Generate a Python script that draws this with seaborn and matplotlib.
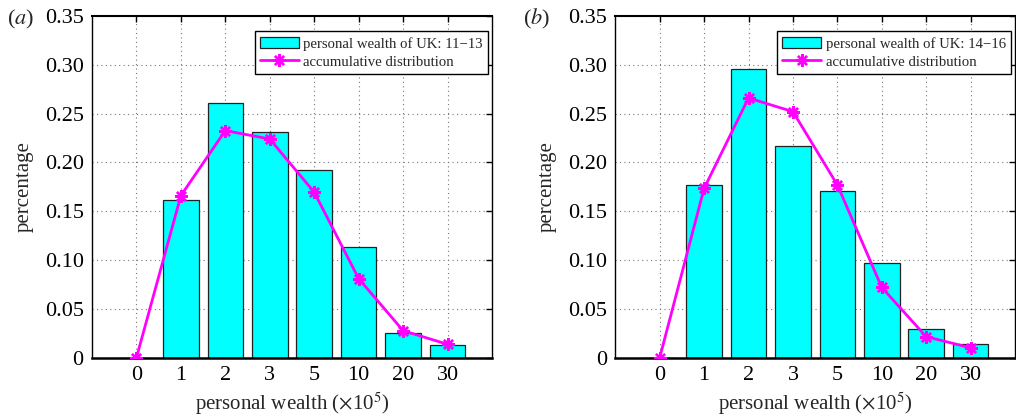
import numpy as np
import pandas as pd
import seaborn as sns
import matplotlib
matplotlib.use("Agg")
import matplotlib.pyplot as plt
from matplotlib.patches import Patch
from matplotlib.lines import Line2D

categories = ["0", "1", "2", "3", "5", "10", "20", "30"]
bars_a = [0.0, 0.162, 0.261, 0.231, 0.192, 0.113, 0.025, 0.0127]
line_a = [0.0, 0.166, 0.2326, 0.224, 0.1695, 0.081, 0.0277, 0.0137]
bars_b = [0.0, 0.177, 0.2955, 0.217, 0.171, 0.0967, 0.0297, 0.0137]
line_b = [0.0, 0.1735, 0.266, 0.252, 0.177, 0.072, 0.0215, 0.0102]
legend_a = "personal wealth of UK: 11\u221213"
legend_b = "personal wealth of UK: 14\u221216"
line_label = "accumulative distribution"
yticks = [0, 0.05, 0.10, 0.15, 0.20, 0.25, 0.30, 0.35]
ytick_labels = ["0", "0.05", "0.10", "0.15", "0.20", "0.25", "0.30", "0.35"]

sns.set_theme(style="white")
plt.rcParams["font.family"] = ["Liberation Serif", "DejaVu Serif"]
plt.rcParams["mathtext.fontset"] = "stix"

fig = plt.figure(figsize=(10.16, 4.19), dpi=100)
ax_a = fig.add_axes([92 / 1016, 61.3 / 419, 400 / 1016, 341.7 / 419])
ax_b = fig.add_axes([615.3 / 1016, 61.3 / 419, 399.7 / 1016, 341.7 / 419])

CYAN = "#00FFFF"
MAG = "#FF00FF"
STAR = (8, 2, 0)
MS = 9
MEW = 1.7

def draw(ax, bars, line, leg, panel):
    df = pd.DataFrame({"wealth": categories, "bar": bars, "line": line})
    sns.barplot(data=df, x="wealth", y="bar", order=categories, color=CYAN,
                saturation=1, width=0.8, edgecolor="#222222", linewidth=0.9,
                ax=ax, zorder=2)
    n_before = len(ax.lines)
    sns.pointplot(data=df, x="wealth", y="line", order=categories, color=MAG,
                  linestyles="-", ax=ax, linewidth=2, zorder=3)
    for ln in ax.lines[n_before:]:
        if len(ln.get_xdata()) == len(categories):
            ln.set_marker(STAR)
            ln.set_markersize(MS)
            ln.set_markeredgewidth(MEW)
            ln.set_markeredgecolor(MAG)
            ln.set_markerfacecolor(MAG)
            ln.set_linewidth(2)
    ax.set_xlim(-1, 8)
    ax.set_ylim(0, 0.35)
    ax.set_yticks(yticks)
    ax.set_yticklabels(ytick_labels)
    ax.set_xticks(range(len(categories)))
    ax.set_xticklabels(categories)
    ax.grid(True, color="#777777", linestyle=(0, (1, 3)), linewidth=0.8, zorder=0)
    ax.set_axisbelow(True)
    ax.tick_params(direction="in", length=4, width=1, top=True, right=True,
                   labelsize=16, pad=6, colors="black")
    for s in ["left", "right", "top"]:
        ax.spines[s].set_linewidth(1.0)
        ax.spines[s].set_color("black")
    ax.spines["bottom"].set_linewidth(1.8)
    ax.spines["bottom"].set_color("black")
    ax.spines["top"].set_linewidth(1.5)
    ax.set_xlabel(r"personal wealth ($\times$10$^5$)", fontsize=15, labelpad=4)
    ax.set_ylabel("percentage", fontsize=15, labelpad=8)
    handles = [Patch(facecolor=CYAN, edgecolor="#222222", linewidth=0.9),
               Line2D([0], [0], color=MAG, lw=2, marker=STAR,
                      markersize=MS, markeredgewidth=MEW)]
    lg = ax.legend(handles, [leg, line_label], loc="upper right",
                   bbox_to_anchor=(0.99, 0.955), fontsize=10.6, frameon=True,
                   fancybox=False, edgecolor="black", framealpha=1,
                   borderpad=0.35, handlelength=2.65, handleheight=0.86,
                   labelspacing=0.3, handletextpad=0.3, borderaxespad=0)
    lg.get_frame().set_linewidth(1.0)

draw(ax_a, bars_a, line_a, legend_a, "a")
draw(ax_b, bars_b, line_b, legend_b, "b")

fig.text(7 / 1016, 1 - 24 / 419, r"($\mathit{a}$)", fontsize=16, ha="left", va="baseline")
fig.text(523 / 1016, 1 - 24 / 419, r"($\mathit{b}$)", fontsize=16, ha="left", va="baseline")

fig.savefig("out.png", dpi=100)
